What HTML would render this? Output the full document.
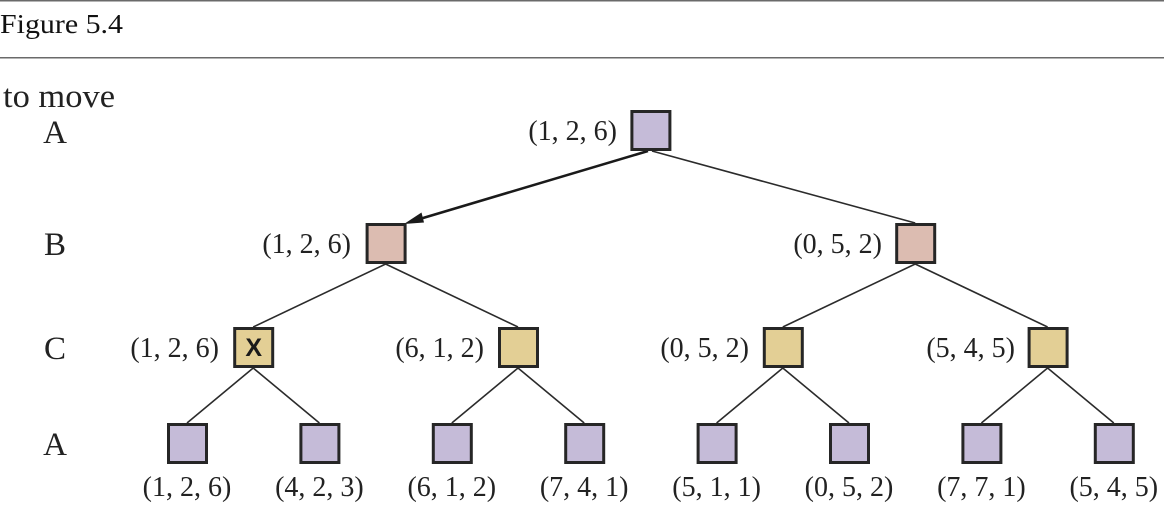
<!DOCTYPE html>
<html>
<head>
<meta charset="utf-8">
<style>
  html, body { margin: 0; padding: 0; background: #ffffff; }
  body { width: 1164px; height: 506px; overflow: hidden; }
  svg { display: block; }
  .lbl { font-family: "Liberation Serif", serif; font-size: 28px; fill: #222; }
  .side { font-family: "Liberation Serif", serif; font-size: 33px; fill: #222; }
</style>
</head>
<body>
<svg width="1164" height="506" viewBox="0 0 1164 506" xmlns="http://www.w3.org/2000/svg">
  <!-- header -->
  <rect x="0" y="0" width="1164" height="1.5" fill="#6a6a6a"/>
  <rect x="0" y="57" width="1164" height="1.5" fill="#6a6a6a"/>
  <text x="0" y="33" font-family="Liberation Serif, serif" font-size="27" fill="#111" textLength="123" lengthAdjust="spacingAndGlyphs">Figure 5.4</text>

  <!-- side labels -->
  <text class="side" x="3" y="107" textLength="112" lengthAdjust="spacingAndGlyphs">to move</text>
  <text class="side" x="55" y="143" text-anchor="middle">A</text>
  <text class="side" x="55" y="255" text-anchor="middle">B</text>
  <text class="side" x="55" y="359" text-anchor="middle">C</text>
  <text class="side" x="55" y="455" text-anchor="middle">A</text>

  <!-- connectors -->
  <g stroke="#2b2b2b" stroke-width="1.6" fill="none">
    <line x1="652" y1="151" x2="915.2" y2="223"/>
    <line x1="385.6" y1="264" x2="253.2" y2="327"/>
    <line x1="385.6" y1="264" x2="518" y2="327"/>
    <line x1="915.2" y1="264" x2="782.8" y2="327"/>
    <line x1="915.2" y1="264" x2="1047.6" y2="327"/>

    <line x1="253.2" y1="368" x2="187" y2="423"/>
    <line x1="253.2" y1="368" x2="319.4" y2="423"/>
    <line x1="518" y1="368" x2="451.8" y2="423"/>
    <line x1="518" y1="368" x2="584.2" y2="423"/>
    <line x1="782.8" y1="368" x2="716.6" y2="423"/>
    <line x1="782.8" y1="368" x2="849" y2="423"/>
    <line x1="1047.6" y1="368" x2="981.4" y2="423"/>
    <line x1="1047.6" y1="368" x2="1113.8" y2="423"/>
  </g>

  <!-- bold arrow root -> B left -->
  <line x1="648" y1="151" x2="418" y2="219.5" stroke="#1a1a1a" stroke-width="2.6"/>
  <polygon points="404,224 421.5,212.5 424,222.5" fill="#1a1a1a"/>

  <!-- boxes -->
  <g stroke="#262626" stroke-width="3">
    <!-- root -->
    <rect x="631.9" y="111.5" width="38" height="38" fill="#c5bbd8"/>
    <!-- B -->
    <rect x="367.1" y="224.5" width="38" height="38" fill="#dcbcb1"/>
    <rect x="896.7" y="224.5" width="38" height="38" fill="#dcbcb1"/>
    <!-- C -->
    <rect x="234.7" y="328.5" width="38" height="38" fill="#e3cf95"/>
    <rect x="499.5" y="328.5" width="38" height="38" fill="#e3cf95"/>
    <rect x="764.3" y="328.5" width="38" height="38" fill="#e3cf95"/>
    <rect x="1029.1" y="328.5" width="38" height="38" fill="#e3cf95"/>
    <!-- leaves -->
    <rect x="168.5" y="424.5" width="38" height="38" fill="#c5bbd8"/>
    <rect x="300.9" y="424.5" width="38" height="38" fill="#c5bbd8"/>
    <rect x="433.3" y="424.5" width="38" height="38" fill="#c5bbd8"/>
    <rect x="565.7" y="424.5" width="38" height="38" fill="#c5bbd8"/>
    <rect x="698.1" y="424.5" width="38" height="38" fill="#c5bbd8"/>
    <rect x="830.5" y="424.5" width="38" height="38" fill="#c5bbd8"/>
    <rect x="962.9" y="424.5" width="38" height="38" fill="#c5bbd8"/>
    <rect x="1095.3" y="424.5" width="38" height="38" fill="#c5bbd8"/>
  </g>

  <!-- X mark -->
  <text x="253.7" y="356" text-anchor="middle" font-family="Liberation Sans, sans-serif" font-weight="bold" font-size="25" fill="#1a1a1a">X</text>

  <!-- node labels -->
  <text class="lbl" x="617" y="140" text-anchor="end">(1, 2, 6)</text>
  <text class="lbl" x="351" y="253" text-anchor="end">(1, 2, 6)</text>
  <text class="lbl" x="882" y="253" text-anchor="end">(0, 5, 2)</text>
  <text class="lbl" x="219" y="357" text-anchor="end">(1, 2, 6)</text>
  <text class="lbl" x="484" y="357" text-anchor="end">(6, 1, 2)</text>
  <text class="lbl" x="749" y="357" text-anchor="end">(0, 5, 2)</text>
  <text class="lbl" x="1015" y="357" text-anchor="end">(5, 4, 5)</text>

  <text class="lbl" x="187" y="496" text-anchor="middle">(1, 2, 6)</text>
  <text class="lbl" x="319.4" y="496" text-anchor="middle">(4, 2, 3)</text>
  <text class="lbl" x="451.8" y="496" text-anchor="middle">(6, 1, 2)</text>
  <text class="lbl" x="584.2" y="496" text-anchor="middle">(7, 4, 1)</text>
  <text class="lbl" x="716.6" y="496" text-anchor="middle">(5, 1, 1)</text>
  <text class="lbl" x="849" y="496" text-anchor="middle">(0, 5, 2)</text>
  <text class="lbl" x="981.4" y="496" text-anchor="middle">(7, 7, 1)</text>
  <text class="lbl" x="1113.8" y="496" text-anchor="middle">(5, 4, 5)</text>
</svg>
</body>
</html>
